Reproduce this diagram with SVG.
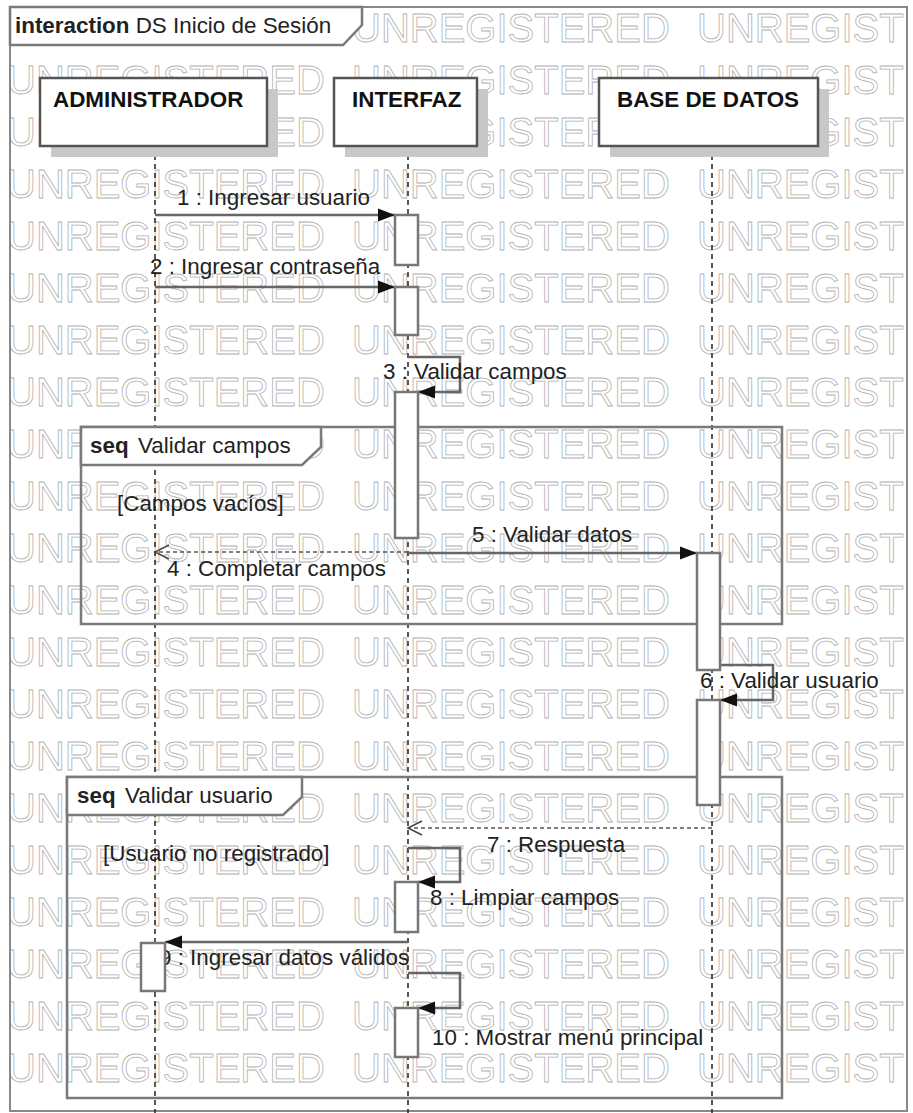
<svg xmlns="http://www.w3.org/2000/svg" xmlns:xlink="http://www.w3.org/1999/xlink" width="913" height="1113" viewBox="0 0 913 1113">
<style>
text{font-family:"Liberation Sans",Arial,sans-serif;font-size:22.4px;fill:#222}
.wmt{font-size:40px;fill:none;stroke:#b2b2b2;stroke-width:0.8}
.b{font-weight:bold}
.frame{fill:none;stroke:#7a7a7a;stroke-width:2.5}
.outer{fill:none;stroke:#888;stroke-width:2}
.tab{fill:#fff;stroke:#7a7a7a;stroke-width:2.5}
.head{fill:#fff;stroke:#555;stroke-width:2.5}
.shadow{fill:#c8c8c8}
.life{stroke:#222;stroke-width:1.5;stroke-dasharray:5 4;fill:none}
.act{fill:#fff;stroke:#777;stroke-width:2.5}
.msg{fill:none;stroke:#666;stroke-width:2.5}
.ret{fill:none;stroke:#555;stroke-width:1.5;stroke-dasharray:4 3}
.hd{font-weight:bold;fill:#111}
</style>
<defs>
<clipPath id="clip"><rect x="11" y="8" width="895" height="1102"/></clipPath>
<g id="wmrow"><text class="wmt" x="7">UNREGISTERED</text><text class="wmt" x="352">UNREGISTERED</text><text class="wmt" x="697">UNREGISTERED</text></g>
<marker id="af" markerUnits="userSpaceOnUse" markerWidth="18" markerHeight="14" refX="17" refY="7" orient="auto"><path d="M0,0.5 L17,7 L0,13.5 z" fill="#111"/></marker>
<marker id="ao" markerUnits="userSpaceOnUse" markerWidth="17" markerHeight="17" refX="15" refY="8" orient="auto"><path d="M1,1 L15,8 L1,15" fill="none" stroke="#444" stroke-width="1.5"/></marker>
</defs>
<rect width="913" height="1113" fill="#fff"/>
<g id="watermark" clip-path="url(#clip)">
<use href="#wmrow" y="42"/><use href="#wmrow" y="94"/><use href="#wmrow" y="146"/><use href="#wmrow" y="198"/><use href="#wmrow" y="250"/><use href="#wmrow" y="302"/><use href="#wmrow" y="354"/><use href="#wmrow" y="406"/><use href="#wmrow" y="458"/><use href="#wmrow" y="510"/><use href="#wmrow" y="562"/><use href="#wmrow" y="614"/><use href="#wmrow" y="666"/><use href="#wmrow" y="718"/><use href="#wmrow" y="770"/><use href="#wmrow" y="822"/><use href="#wmrow" y="874"/><use href="#wmrow" y="926"/><use href="#wmrow" y="978"/><use href="#wmrow" y="1030"/><use href="#wmrow" y="1082"/>
</g>
<g id="frame-interaction">
<rect class="outer" x="10" y="7" width="897" height="1104"/>
<polygon class="tab" points="10,7 362,7 362,25 343,45 10,45"/>
<text x="15" y="33"><tspan class="b">interaction</tspan> DS Inicio de Sesión</text>
</g>
<g id="lifelines">
<line class="life" x1="155" y1="146" x2="155" y2="1113"/>
<line class="life" x1="408" y1="146" x2="408" y2="1113"/>
<line class="life" x1="712" y1="146" x2="712" y2="1113"/>
</g>
<g id="frame-seq-campos">
<rect class="frame" x="81" y="427" width="701" height="197"/>
<polygon class="tab" points="81,427 321,427 321,447 302,465 81,465"/>
<text x="90" y="453"><tspan class="b">seq</tspan><tspan x="138">Validar campos</tspan></text>
<text x="117" y="511">[Campos vacíos]</text>
</g>
<g id="frame-seq-usuario">
<rect class="frame" x="67" y="777" width="715" height="321"/>
<polygon class="tab" points="67,777 302,777 302,797 283,815 67,815"/>
<text x="77" y="803"><tspan class="b">seq</tspan><tspan x="125">Validar usuario</tspan></text>
<text x="103" y="861">[Usuario no registrado]</text>
</g>
<g id="node-administrador">
<rect class="shadow" x="51" y="89" width="227" height="68"/>
<rect class="head" x="40" y="78" width="227" height="68"/>
<text class="hd" x="53" y="107">ADMINISTRADOR</text>
</g>
<g id="node-interfaz">
<rect class="shadow" x="345" y="89" width="143" height="68"/>
<rect class="head" x="334" y="78" width="143" height="68"/>
<text class="hd" x="352" y="107">INTERFAZ</text>
</g>
<g id="node-base-datos">
<rect class="shadow" x="610" y="89" width="219" height="68"/>
<rect class="head" x="599" y="78" width="219" height="68"/>
<text class="hd" x="617" y="107">BASE DE DATOS</text>
</g>
<g id="connectors">
<path class="msg" d="M155,215 H395" marker-end="url(#af)"/>
<path class="msg" d="M155,287 H395" marker-end="url(#af)"/>
<path class="msg" d="M408,357 H460 V392 H418" marker-end="url(#af)"/>
<path class="ret" d="M408,552 H155" marker-end="url(#ao)"/>
<path class="msg" d="M408,553 H697" marker-end="url(#af)"/>
<path class="msg" d="M720,665 H773 V700 H720" marker-end="url(#af)"/>
<path class="ret" d="M712,828 H408" marker-end="url(#ao)"/>
<path class="msg" d="M408,848 H460 V882 H418" marker-end="url(#af)"/>
<path class="msg" d="M408,942 H165" marker-end="url(#af)"/>
<path class="msg" d="M408,973 H460 V1008 H418" marker-end="url(#af)"/>
</g>
<g id="connector-labels">
<text x="177" y="205">1 : Ingresar usuario</text>
<text x="150" y="274">2 : Ingresar contraseña</text>
<text x="383" y="379">3 : Validar campos</text>
<text x="167" y="576">4 : Completar campos</text>
<text x="472" y="542">5 : Validar datos</text>
<text x="700" y="688">6 : Validar usuario</text>
<text x="487" y="852">7 : Respuesta</text>
<text x="430" y="905">8 : Limpiar campos</text>
<text x="159" y="965">9 : Ingresar datos válidos</text>
<text x="432" y="1045">10 : Mostrar menú principal</text>
</g>
<g id="activations">
<rect class="act" x="395" y="215" width="23" height="50"/>
<rect class="act" x="395" y="287" width="23" height="48"/>
<rect class="act" x="395" y="392" width="23" height="146"/>
<rect class="act" x="697" y="553" width="23" height="117"/>
<rect class="act" x="697" y="700" width="23" height="105"/>
<rect class="act" x="395" y="882" width="23" height="50"/>
<rect class="act" x="141" y="943" width="24" height="48"/>
<rect class="act" x="395" y="1008" width="23" height="49"/>
</g>
</svg>
